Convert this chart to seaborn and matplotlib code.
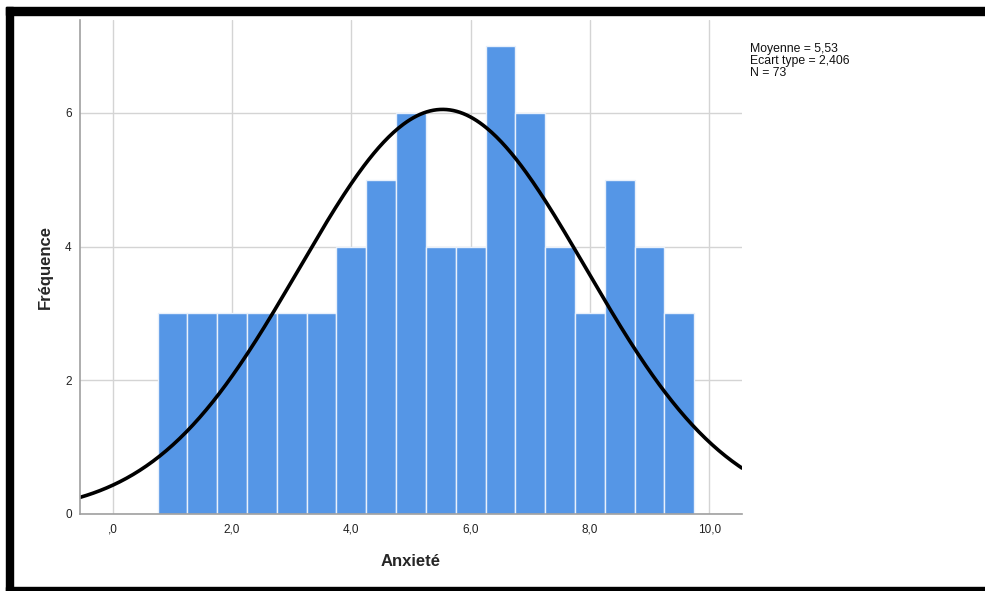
import numpy as np
import pandas as pd
import matplotlib
matplotlib.use("Agg")
import matplotlib.pyplot as plt
import seaborn as sns
from matplotlib.patches import Rectangle

# Data
bin_edges = [0.75 + 0.5 * i for i in range(19)]
counts = [3, 3, 3, 3, 3, 3, 4, 5, 6, 4, 4, 7, 6, 4, 3, 5, 4, 3]
mean_val = 5.53
sd_val = 2.406
n_val = 73
x_ticks = [0, 2, 4, 6, 8, 10]
x_tick_labels = [",0", "2,0", "4,0", "6,0", "8,0", "10,0"]
y_ticks = [0, 2, 4, 6]
y_tick_labels = ["0", "2", "4", "6"]

centers = [(bin_edges[i] + bin_edges[i + 1]) / 2 for i in range(len(counts))]
df = pd.DataFrame({"x": centers, "w": counts})

sns.set_style("white")
plt.rcParams["font.family"] = ["Liberation Sans", "DejaVu Sans"]

fig = plt.figure(figsize=(9.85, 5.91), dpi=100)
ax = fig.add_axes([0.0812, 0.1303, 0.6721, 0.8359])

ax.set_xlim(-0.55, 10.55)
ax.set_ylim(0, 7.39)
ax.set_xticks(x_ticks)
ax.set_xticklabels(x_tick_labels)
ax.set_yticks(y_ticks)
ax.set_yticklabels(y_tick_labels)
ax.grid(True, color="#d4d4d4", linewidth=1.0)
ax.set_axisbelow(True)

sns.histplot(data=df, x="x", weights="w", bins=bin_edges, ax=ax,
             color="#5596E6", alpha=1.0, edgecolor="#e8f0fb", linewidth=1.0)

bw = bin_edges[1] - bin_edges[0]
xs = np.linspace(-0.55, 10.55, 400)
ys = n_val * bw * np.exp(-0.5 * ((xs - mean_val) / sd_val) ** 2) / (sd_val * np.sqrt(2 * np.pi))
sns.lineplot(x=xs, y=ys, ax=ax, color="black", linewidth=2.6)

for s in ["top", "right"]:
    ax.spines[s].set_visible(False)
for s in ["left", "bottom"]:
    ax.spines[s].set_color("#a0a0a0")
    ax.spines[s].set_linewidth(1.2)

ax.tick_params(axis="x", labelsize=8.5, length=0, pad=7, colors="#222222")
ax.tick_params(axis="y", labelsize=8.5, length=0, pad=6, colors="#222222")
ax.set_xlabel("Anxieté", fontsize=12, fontweight="bold", labelpad=13)
ax.set_ylabel("Fréquence", fontsize=12, fontweight="bold", labelpad=9)

fig.text(750 / 985, 1 - 43 / 591,
         "Moyenne = 5,53\nEcart type = 2,406\nN = 73",
         fontsize=8.8, va="top", ha="left", linespacing=1.0, color="#111111")

# Black frame
fig.patches.append(Rectangle((6 / 985, 0), 7 / 985, 1 - 7 / 591, transform=fig.transFigure,
                             color="black", zorder=10))
fig.patches.append(Rectangle((6 / 985, 1 - 15 / 591), 1, 8 / 591, transform=fig.transFigure,
                             color="black", zorder=10))
fig.patches.append(Rectangle((6 / 985, 0), 1, 4 / 591, transform=fig.transFigure,
                             color="black", zorder=10))

fig.savefig("out.png", dpi=100, facecolor="white")
